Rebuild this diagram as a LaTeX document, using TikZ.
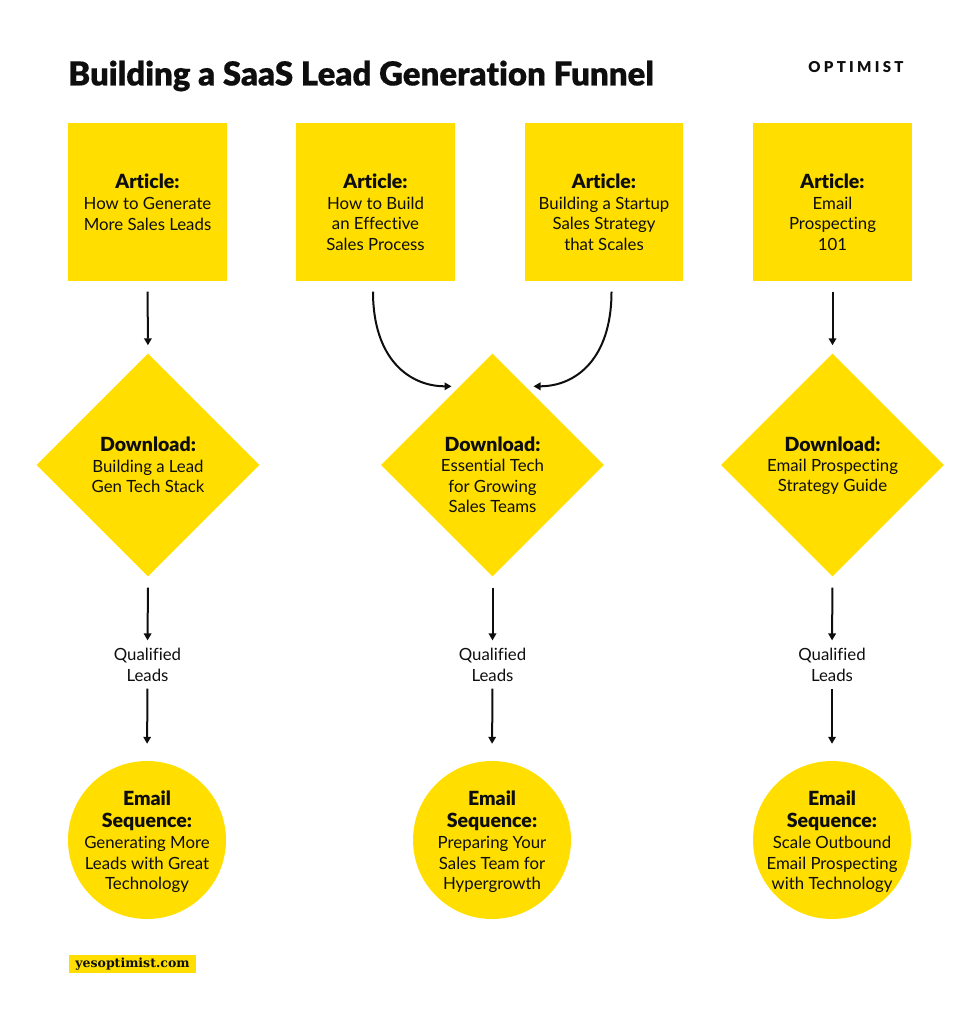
\documentclass[tikz,border=0pt]{standalone}
\usepackage{fontspec}
\setmainfont{Lato}[Ligatures=NoCommon]
\newfontfamily\logofont[LetterSpace=22]{Lato Black}
\newfontfamily\blackfont[Ligatures=NoCommon]{Lato Black}
\newfontfamily\titlefont[Ligatures=NoCommon,FakeBold=0.4]{Lato Black}
\newfontfamily\webfont{DejaVu Serif}
\usetikzlibrary{shapes.geometric,arrows.meta}
\definecolor{brandyellow}{HTML}{FFDE00}
\definecolor{ink}{HTML}{0E0E0E}
\newcommand{\hd}[1]{{\fontsize{19.5}{21}\selectfont\blackfont #1}}
\newcommand{\blankline}{\rule{0pt}{14pt}\\}
\tikzset{
  x=1pt,y=-1pt,
  every node/.style={text=ink,font=\fontsize{16.8}{20.3}\selectfont,align=center},
  article/.style={rectangle,fill=brandyellow,minimum width=158.5pt,minimum height=158pt,inner sep=0pt},
  download/.style={diamond,aspect=1,fill=brandyellow,minimum size=223pt,inner sep=0pt},
  sequence/.style={circle,fill=brandyellow,minimum size=158pt,inner sep=-14pt},
  plainlabel/.style={inner sep=0pt},
  flow/.style={-{Triangle[length=7pt,width=7.5pt]},line width=2pt,draw=ink,shorten <=10.5pt,shorten >=8pt},
  flowb/.style={flow,shorten <=11pt,shorten >=8pt},
}
\begin{document}
\begin{tikzpicture}
\useasboundingbox (0,0) rectangle (975,1024);
\node[anchor=west,inner sep=0pt,font=\fontsize{33}{36}\selectfont\titlefont] (title) at (68,76) {Building a SaaS Lead Generation Funnel};
\node[inner sep=0pt,font=\fontsize{15}{16}\selectfont\logofont] (logo) at (856,67) {OPTIMIST};

\node[article] (a1) at (147.5,202) {\hd{Article:}\\[1pt]How to Generate\\More Sales Leads};
\node[article] (a2) at (375.5,202) {\blankline\hd{Article:}\\[1pt]How to Build\\an Effective\\Sales Process};
\node[article] (a3) at (604,202) {\blankline\hd{Article:}\\[1pt]Building a Startup\\Sales Strategy\\that Scales};
\node[article] (a4) at (832.5,202) {\blankline\hd{Article:}\\[1pt]Email\\Prospecting\\101};

\node[download] (d1) at (148,465) {\hd{Download:}\\Building a Lead\\Gen Tech Stack};
\node[download] (d2) at (492.5,465) {\blankline\hd{Download:}\\Essential Tech\\for Growing\\Sales Teams};
\node[download] (d3) at (832.5,465) {\rule{0pt}{16pt}\hd{Download:}\\Email Prospecting\\Strategy Guide};

\node[plainlabel] (q1) at (147.5,665) {Qualified\\Leads};
\node[plainlabel] (q2) at (492.5,665) {Qualified\\Leads};
\node[plainlabel] (q3) at (832,665) {Qualified\\Leads};

\node[sequence] (s1) at (147,840) {\rule{0pt}{18pt}\hd{Email}\\[2pt]\hd{Sequence:}\\[1pt]Generating More\\Leads with Great\\Technology};
\node[sequence] (s2) at (492,840) {\rule{0pt}{18pt}\hd{Email}\\[2pt]\hd{Sequence:}\\[1pt]Preparing Your\\Sales Team for\\Hypergrowth};
\node[sequence] (s3) at (832,840) {\rule{0pt}{18pt}\hd{Email}\\[2pt]\hd{Sequence:}\\[1pt]Scale Outbound\\Email Prospecting\\with Technology};

\draw[flow] (a1.south) -- (d1.north);
\draw[flow] (a4.south) -- (d3.north);
\draw[flow] ([shift={(-2.5,0)}]a2.south) .. controls +(0,78) and +(-50,0) .. ([shift={(-33,33)}]d2.north);
\draw[flow] ([shift={(7.5,0)}]a3.south) .. controls +(0,78) and +(50,0) .. ([shift={(33,33)}]d2.north);

\draw[flowb] (d1.south) -- (q1.north);
\draw[flowb] (d2.south) -- (q2.north);
\draw[flowb] (d3.south) -- (q3.north);
\draw[flow,shorten <=7pt,shorten >=17pt] (q1.south) -- (s1.north);
\draw[flow,shorten <=7pt,shorten >=17pt] (q2.south) -- (s2.north);
\draw[flow,shorten <=7pt,shorten >=17pt] (q3.south) -- (s3.north);

\node[fill=brandyellow,minimum width=127pt,minimum height=18pt,inner sep=0pt,font=\fontsize{12.5}{15}\selectfont\webfont\bfseries] (web) at (132.5,964) {yesoptimist.com};
\end{tikzpicture}
\end{document}
